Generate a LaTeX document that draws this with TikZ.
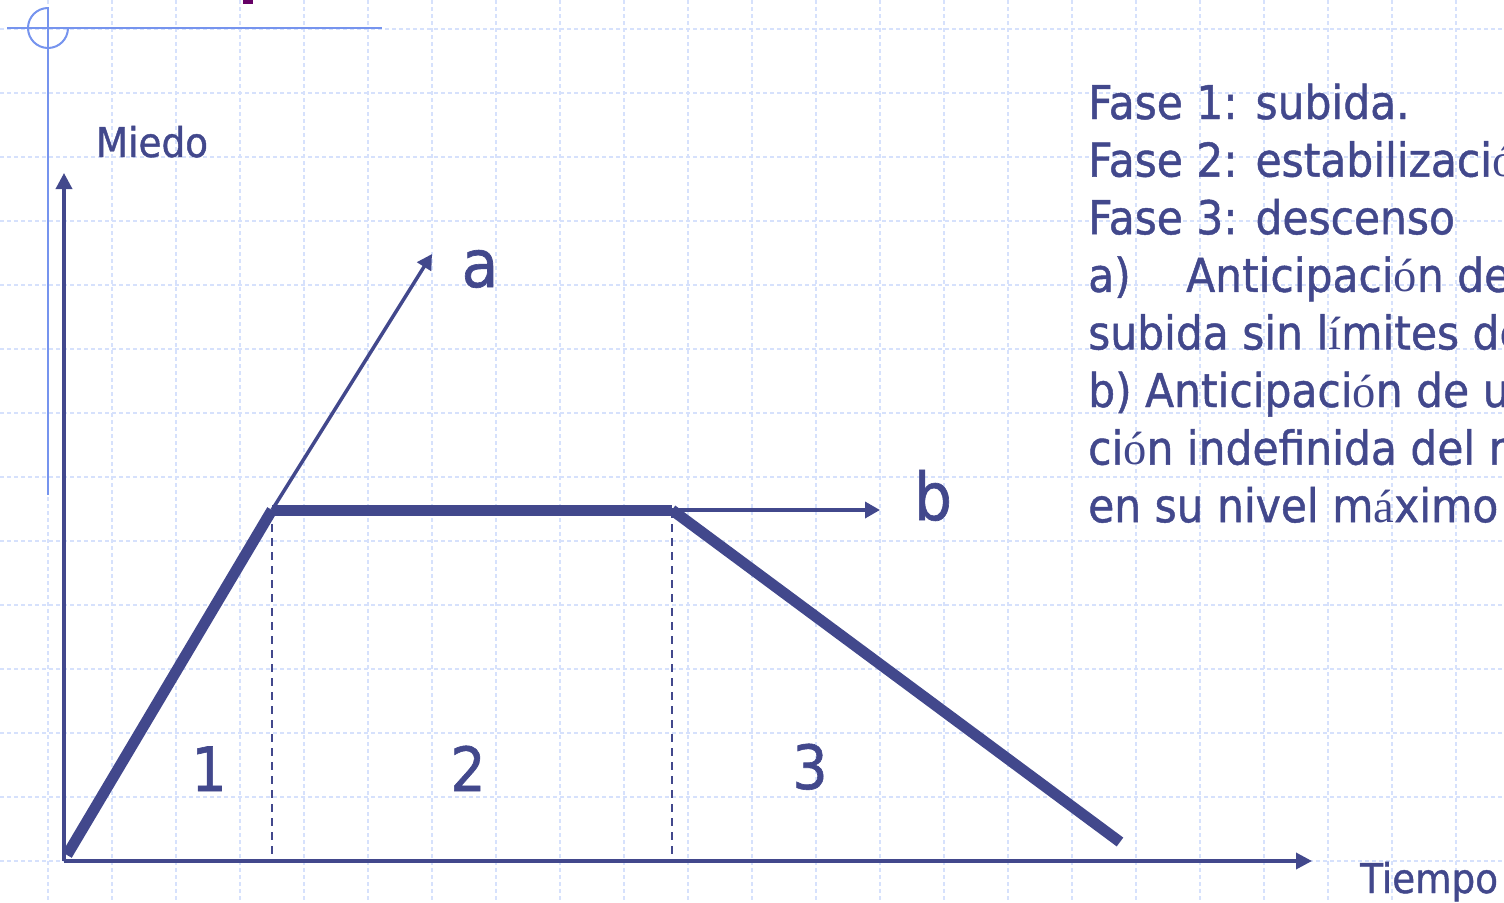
\documentclass[tikz,border=0pt]{standalone}
\usepackage{fontspec}
\setmainfont{DejaVu Sans}[FakeStretch=0.91, FakeBold=1]
\newfontfamily\accfont{Liberation Serif}
\newcommand{\ac}[1]{{\accfont #1}}
\usetikzlibrary{arrows.meta}
\definecolor{navy}{RGB}{66,72,140}
\definecolor{gridblue}{RGB}{214,225,252}
\definecolor{decoblue}{RGB}{118,148,238}
\definecolor{plum}{RGB}{102,0,102}

\begin{document}
\begin{tikzpicture}[x=1pt,y=-1pt,
    grid/.style={gridblue, line width=1.1pt, dash pattern=on 4pt off 3pt},
    deco/.style={decoblue, line width=2pt},
    axis/.style={navy, line width=3.5pt, -{Triangle[length=16pt,width=16pt]}},
    arr/.style={navy, line width=3.5pt, -{Triangle[length=15pt,width=16pt]}},
    curve/.style={navy, line width=11pt},
    guide/.style={navy, line width=1.8pt, dash pattern=on 8pt off 6pt},
    side/.style={text=navy, inner sep=0pt, anchor=base west, font=\fontsize{46.6}{56}\selectfont},
    lbl/.style={text=navy, inner sep=0pt, anchor=base, font=\fontsize{66}{70}\selectfont},
    num/.style={text=navy, inner sep=0pt, anchor=base, font=\fontsize{61}{66}\selectfont},
    axlbl/.style={text=navy, inner sep=0pt, anchor=base west, font=\fontsize{41}{48}\selectfont}
]
\useasboundingbox (0,0) rectangle (1504,902);
\clip (0,0) rectangle (1504,902);

% background grid
\foreach \x in {48,112,...,1456} {
  \draw[grid] (\x,0) -- (\x,902);
}
\foreach \y in {29,93,...,861} {
  \draw[grid] (0,\y) -- (1504,\y);
}

% slide corner mark
\draw[deco] (7,28) -- (382,28);
\draw[deco] (48,7) -- (48,495);
\draw[deco] (48,8) arc[start angle=-90, end angle=-360, radius=20];
\fill[plum] (243,0) rectangle (253,4);

% points of the curve
\coordinate (o) at (64,861);
\coordinate (ytop) at (64,173);
\coordinate (xend) at (1312,861);
\coordinate (s) at (67,855);
\coordinate (p1) at (272,510);
\coordinate (p2) at (672,510);
\coordinate (e) at (1120,842);
\coordinate (d1) at (272,861);
\coordinate (d2) at (672,861);
\coordinate (ta) at (432,254);
\coordinate (tb) at (880,510);

% axes
\draw[axis] (o) -- (ytop);
\draw[axis] (o) -- (xend);
\node[axlbl, anchor=base] (miedo) at (152,157) {Miedo};
\node[axlbl] (tiempo) at (1360,893) {Tiempo};

% phase limits
\draw[guide] (p1) -- (d1);
\draw[guide] (p2) -- (d2);

% anticipated paths
\draw[arr] (p1) -- (ta);
\draw[arr] (p2) -- (tb);
\node[lbl] (la) at (480,287) {a};
\node[lbl] (lb) at (933,520) {b};

% fear curve
\draw[curve] (s) -- (p1);
\draw[curve] (p1) -- (p2);
\draw[curve] (p2) -- (e);

\node[num] (n1) at (209,791) {1};
\node[num] (n2) at (468,791) {2};
\node[num] (n3) at (810,789) {3};

% phases text
\foreach \i/\t in {0/{Fase 1: subida.}, 1/{Fase 2: estabilizaci\ac{ó}n.}, 2/{Fase 3: descenso},
  4/{subida sin l\ac{í}mites del miedo}, 5/{b) Anticipaci\ac{ó}n de una estabiliza-},
  6/{ci\ac{ó}n indefinida del miedo}, 7/{en su nivel m\ac{á}ximo}} {
  \node[side] (f\i) at (1088,119+57.6*\i) {\t};
}
\node[side] (f3) at (1088,119+57.6*3) {a)};
\node[side] (f3b) at (1186,119+57.6*3) {Anticipaci\ac{ó}n de una};
\end{tikzpicture}
\end{document}
